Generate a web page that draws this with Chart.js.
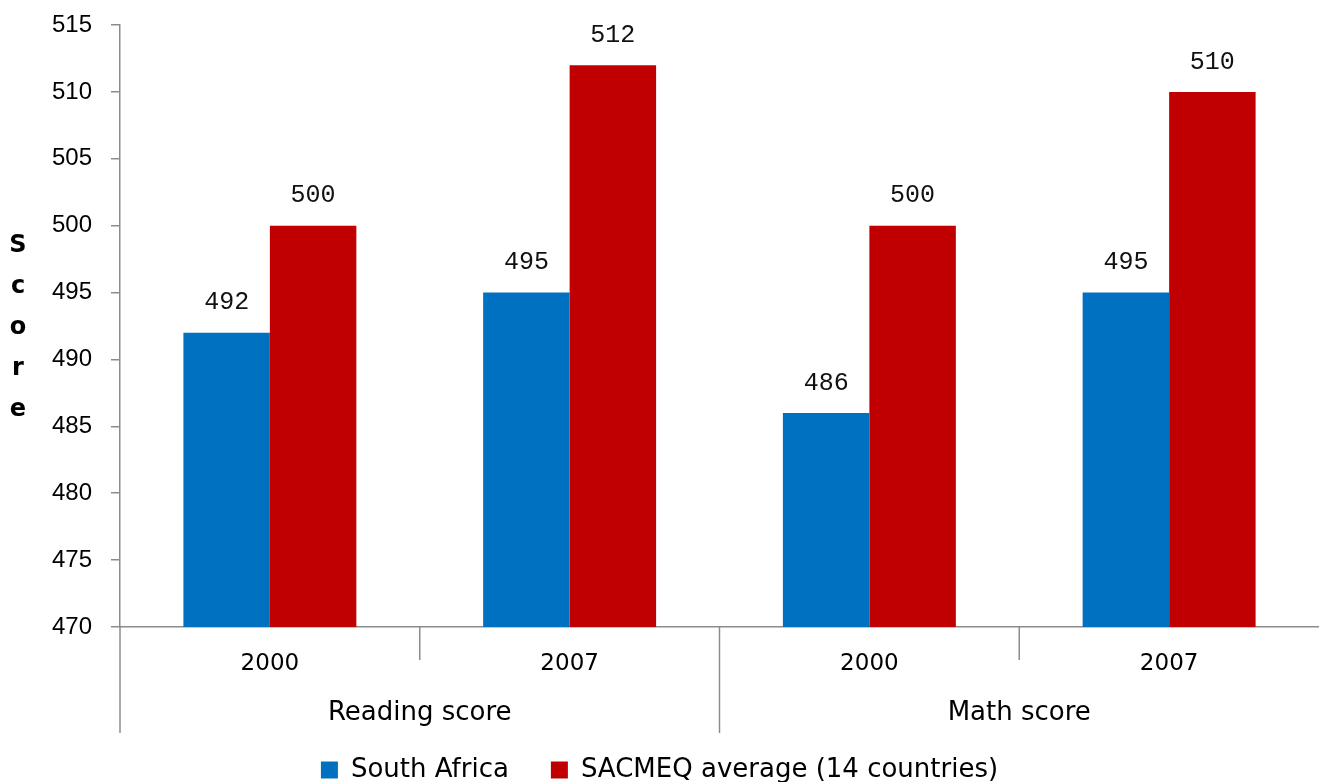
<!DOCTYPE html>
<html>
<head>
<meta charset="utf-8">
<script src="https://cdn.jsdelivr.net/npm/chart.js@4/dist/chart.umd.min.js"></script>
<style>
  html, body { margin: 0; padding: 0; background: #fff; }
  #wrap { width: 1319px; height: 782px; position: relative; }
</style>
</head>
<body>
<div id="wrap"><canvas id="chart"></canvas></div>
<script>
// Years shown under each bar pair, and the subject group each pair belongs to
const years = ['2000', '2007', '2000', '2007'];
const subjects = ['Reading score', 'Math score'];
const yearsPerSubject = 2;

// Scores
const southAfrica = [492, 495, 486, 495];
const sacmeqAverage = [500, 512, 500, 510];

// Score axis
const scoreMin = 470;
const scoreMax = 515;
const scoreStep = 5;
const axisTitle = 'Score';

const AXIS_GREY = '#8c8c8c';
const SANS = '"DejaVu Sans", sans-serif';

// Value labels above every bar
const valueLabels = {
  id: 'valueLabels',
  afterDatasetsDraw(chart) {
    const ctx = chart.ctx;
    ctx.save();
    ctx.font = '25px "Liberation Mono", monospace';
    ctx.fillStyle = '#111';
    ctx.textAlign = 'center';
    ctx.textBaseline = 'middle';
    chart.data.datasets.forEach((ds, di) => {
      chart.getDatasetMeta(di).data.forEach((bar, i) => {
        ctx.fillText(String(ds.data[i]), bar.x, bar.y - 30);
      });
    });
    ctx.restore();
  }
};

// Vertical axis title, one letter per line
const stackedTitle = {
  id: 'stackedTitle',
  afterDraw(chart) {
    const ctx = chart.ctx;
    const area = chart.chartArea;
    const letters = axisTitle.split('');
    const step = 41;
    const mid = (area.top + area.bottom) / 2 + 8;
    ctx.save();
    ctx.font = 'bold 24px ' + SANS;
    ctx.fillStyle = '#000';
    ctx.textAlign = 'center';
    ctx.textBaseline = 'alphabetic';
    letters.forEach((ch, i) => {
      ctx.fillText(ch, 18, mid + (i - (letters.length - 1) / 2) * step);
    });
    ctx.restore();
  }
};

// Two-level category axis: year separators, subject separators and subject names
const groupedAxis = {
  id: 'groupedAxis',
  afterDraw(chart) {
    const ctx = chart.ctx;
    const x = chart.scales.x;
    const base = chart.chartArea.bottom;
    const shortLen = 33;
    const longLen = 106;
    ctx.save();
    ctx.strokeStyle = AXIS_GREY;
    ctx.lineWidth = 1.5;
    const line = (px, len) => {
      ctx.beginPath();
      ctx.moveTo(px, base);
      ctx.lineTo(px, base + len);
      ctx.stroke();
    };
    line(x.left, longLen);
    for (let i = 1; i < years.length; i++) {
      const px = (x.getPixelForValue(i - 1) + x.getPixelForValue(i)) / 2;
      line(px, i % yearsPerSubject === 0 ? longLen : shortLen);
    }
    ctx.font = '26px ' + SANS;
    ctx.fillStyle = '#000';
    ctx.textAlign = 'center';
    ctx.textBaseline = 'middle';
    subjects.forEach((name, g) => {
      const first = x.getPixelForValue(g * yearsPerSubject);
      const last = x.getPixelForValue(g * yearsPerSubject + yearsPerSubject - 1);
      ctx.fillText(name, (first + last) / 2, base + 86);
    });
    ctx.restore();
  }
};

new Chart(document.getElementById('chart'), {
  type: 'bar',
  data: {
    labels: years,
    datasets: [
      {
        label: 'South Africa',
        data: southAfrica,
        backgroundColor: '#0070C0',
        categoryPercentage: 0.577,
        barPercentage: 1.0
      },
      {
        label: 'SACMEQ average (14 countries)',
        data: sacmeqAverage,
        backgroundColor: '#C00000',
        categoryPercentage: 0.577,
        barPercentage: 1.0
      }
    ]
  },
  options: {
    responsive: true,
    maintainAspectRatio: false,
    animation: false,
    layout: { padding: { top: 25, right: 0, left: 0, bottom: -11 } },
    plugins: {
      tooltip: { enabled: false },
      legend: {
        position: 'bottom',
        labels: {
          boxWidth: 17,
          boxHeight: 17,
          padding: 42,
          color: '#000',
          font: { family: SANS, size: 26 }
        }
      }
    },
    scales: {
      x: {
        grid: { display: false },
        border: { display: true, color: AXIS_GREY, width: 1.5 },
        ticks: {
          color: '#000',
          font: { family: SANS, size: 23 },
          padding: 15,
          maxRotation: 0
        },
        afterFit(scale) { scale.height = 88; }
      },
      y: {
        min: scoreMin,
        max: scoreMax,
        grid: {
          drawOnChartArea: false,
          drawTicks: true,
          tickLength: 9,
          color: AXIS_GREY,
          lineWidth: 1.5
        },
        border: { display: true, color: AXIS_GREY, width: 1.5 },
        ticks: {
          stepSize: scoreStep,
          color: '#000',
          font: { family: '"Liberation Sans", Arial, sans-serif', size: 24 },
          padding: 19
        },
        afterFit(scale) {
          scale.width = 120;
          scale.paddingTop = 0;
          scale.paddingBottom = 0;
        }
      }
    }
  },
  plugins: [valueLabels, stackedTitle, groupedAxis]
});
</script>
</body>
</html>
